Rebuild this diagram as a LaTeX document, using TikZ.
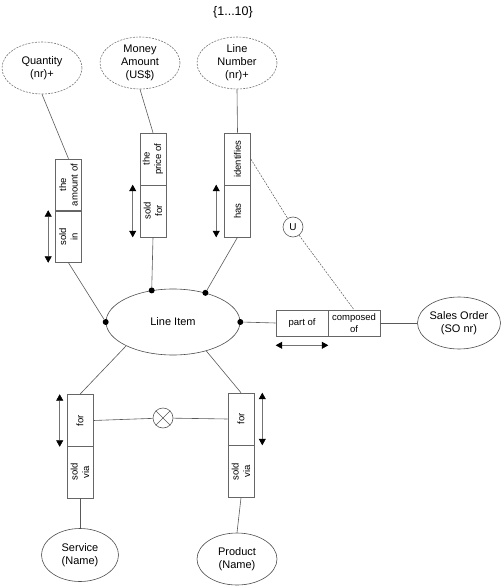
\documentclass[tikz,border=0pt]{standalone}
\usepackage{fontspec}
\setmainfont{Liberation Sans}
\usetikzlibrary{shapes.geometric, arrows.meta}

\begin{document}
\begin{tikzpicture}[
    x=1pt, y=-1pt,
    entity/.style={
        ellipse, draw=black!70, line width=0.6pt, inner sep=0pt,
        minimum width=80pt, minimum height=52pt,
        align=center, font=\fontsize{11}{13}\selectfont
    },
    value/.style={entity, draw=black!55, dash pattern=on 2pt off 1.2pt},
    role/.style={
        rectangle, draw=black!60, line width=0.6pt, inner sep=0pt,
        minimum width=52pt, minimum height=26pt,
        align=center, font=\fontsize{9.5}{11.5}\selectfont
    },
    vrole/.style={role, rotate=90},
    dot/.style={circle, fill=black, inner sep=0pt, minimum size=6pt},
    link/.style={draw=black!65, line width=0.6pt},
    constr/.style={link, line width=0.5pt, dash pattern=on 2pt off 1.2pt},
    uniq/.style={{Triangle[width=7pt,length=6.5pt,color=black]}-{Triangle[width=7pt,length=6.5pt,color=black]}, draw=black!55, line width=0.6pt}
]
    \useasboundingbox (0,0) rectangle (500,588);

    \node[font=\fontsize{12.5}{14}\selectfont] (card) at (233,12) {\{1...10\}};

    %% Value types
    \node[value] (qty) at (42,68) {Quantity\\(nr)+};
    \node[value] (mon) at (140,63) {Money\\Amount\\(US\$)};
    \node[value] (lnum) at (237,63) {Line\\Number\\(nr)+};

    %% Fact types on top
    \node[vrole] (qtyUp) at (68.5,185) {the\\amount of};
    \node[vrole] (qtyLo) at (68.5,236.5) {sold\\in};
    \node[vrole] (monUp) at (153,159) {the\\price of};
    \node[vrole] (monLo) at (153,211) {sold\\for};
    \node[vrole] (lnUp) at (237.5,159) {identifies};
    \node[vrole] (lnLo) at (237.5,211) {has};

    %% Line item and its role dots
    \node[entity, minimum width=134pt, minimum height=66pt] (li) at (173,322) {Line Item};
    \node[dot] (dL) at (li.180) {};
    \node[dot] (dR) at (li.0) {};
    \node[dot] (dT1) at (li.124) {};
    \node[dot] (dT2) at (li.42) {};

    %% Sales order
    \node[role] (partof) at (302,323) {part of};
    \node[role] (comp) at (354,323) {composed\\of};
    \node[entity] (so) at (459,323) {Sales Order\\(SO nr)};

    %% Constraints
    \node[circle, draw=black!65, line width=0.6pt, inner sep=0pt, minimum size=20pt,
          font=\fontsize{10}{12}\selectfont] (uc) at (293,227) {U};
    \node[circle, draw=black!65, line width=0.6pt, inner sep=0pt, minimum size=20pt] (xc) at (163,418) {};

    %% Service / product
    \node[vrole] (svcUp) at (80,420.5) {for};
    \node[vrole] (svcLo) at (80,472) {sold\\via};
    \node[vrole] (prodUp) at (241,419) {for};
    \node[vrole] (prodLo) at (241,471.5) {sold\\via};
    \node[entity, minimum width=77pt, minimum height=53pt] (svc) at (80,555) {Service\\(Name)};
    \node[entity] (prod) at (237,559) {Product\\(Name)};

    \draw[link] (qty.south) -- (qtyUp.east);
    \draw[link] (qtyLo.west) -- (dL);
    \draw[link] (mon.south) -- (monUp.east);
    \draw[link] (monLo.west) -- (dT1);
    \draw[link] (lnum.south) -- (lnUp.east);
    \draw[link] (lnLo.west) -- (dT2);
    \draw[link] (dR) -- (partof.west);
    \draw[link] (comp.east) -- (so.west);
    \draw[link] (li.207) -- (svcUp.east);
    \draw[link] (li.-41) -- (prodUp.east);
    \draw[link] (svcLo.west) -- (svc.north);
    \draw[link] (prodLo.west) -- (prod.north);
    \draw[link] (svcUp.south) -- (xc);
    \draw[link] (xc) -- (prodUp.north);
    \draw[link] (xc.45) -- (xc.225);
    \draw[link] (xc.135) -- (xc.315);
    \draw[constr] (lnUp.south) -- (uc);
    \draw[constr] (uc) -- (comp.north);

    %% Uniqueness bars
    \draw[uniq] ([xshift=-7pt]qtyLo.north west) -- ([xshift=-7pt]qtyLo.north east);
    \draw[uniq] ([xshift=-7pt]monLo.north west) -- ([xshift=-7pt]monLo.north east);
    \draw[uniq] ([xshift=-8pt]lnLo.north west) -- ([xshift=-8pt]lnLo.north east);
    \draw[uniq] ([yshift=-9pt]partof.south west) -- ([yshift=-9pt]partof.south east);
    \draw[uniq] ([xshift=-7pt]svcUp.north west) -- ([xshift=-7pt]svcUp.north east);
    \draw[uniq] ([xshift=8pt]prodUp.south west) -- ([xshift=8pt]prodUp.south east);
\end{tikzpicture}
\end{document}
